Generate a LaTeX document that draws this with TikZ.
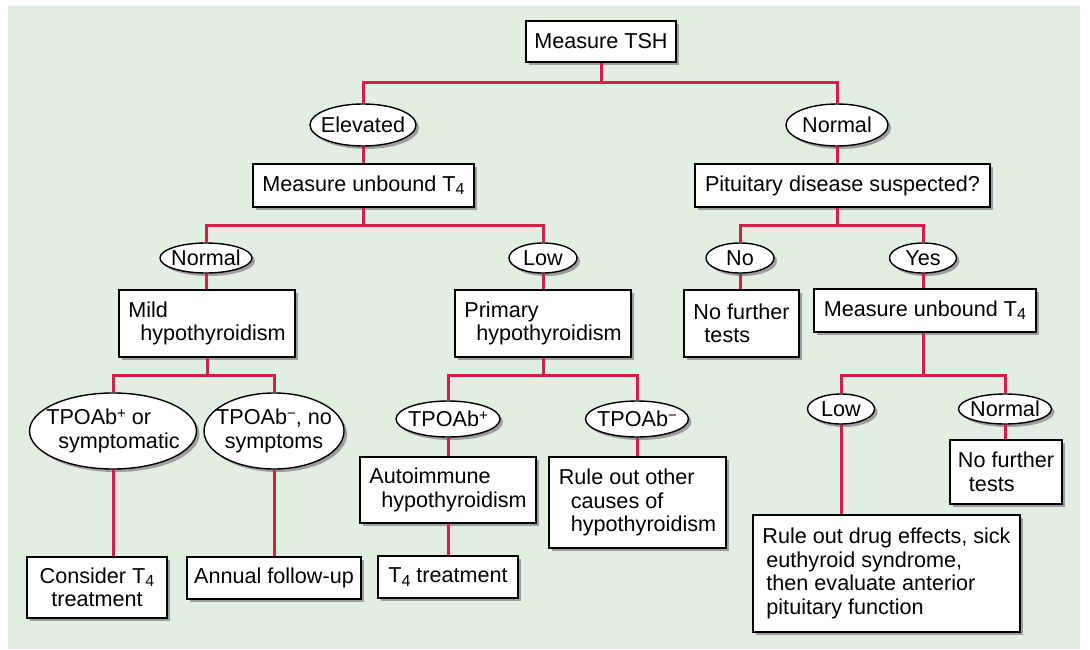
\documentclass[tikz,border=0pt]{standalone}
\usepackage{fontspec}
\setmainfont{Liberation Sans}
\usetikzlibrary{shapes.geometric,shadows}
\definecolor{bggreen}{RGB}{225,238,225}
\definecolor{linkred}{RGB}{214,29,72}
\newcommand{\Tfour}{T\raisebox{-0.28ex}{\fontsize{16}{16}\selectfont 4}}
\newcommand{\supsign}[1]{\raisebox{0.55ex}{\fontsize{15}{15}\selectfont #1}}

\begin{document}
\begin{tikzpicture}[x=1pt,y=-1pt,
  font=\fontsize{21.6}{23.5}\selectfont,
  boxshadow/.style={drop shadow={shadow xshift=3pt,shadow yshift=-3pt,fill=black!38,opacity=1}},
  box/.style={draw,line width=1.4pt,fill=white,boxshadow,rectangle,inner sep=2pt,align=left},
  oval/.style={draw,line width=1.4pt,fill=white,boxshadow,ellipse,inner xsep=-12pt,inner ysep=0pt,align=left},
  link/.style={linkred,line width=3pt}]
\useasboundingbox (0,0) rectangle (1090,650);
\fill[bggreen] (8,6) rectangle (1080,649);

% top of the tree
\node[box,minimum width=150pt,minimum height=41pt] (tsh) at (601,41.5) {Measure TSH};
\node[oval,minimum width=106pt,minimum height=42pt] (elev) at (363,125) {Elevated};
\node[oval,minimum width=102pt,minimum height=42pt] (normT) at (837,125) {Normal};
\node[box,minimum width=221pt,minimum height=43pt] (mu1) at (363.5,185.5) {Measure unbound \Tfour};
\node[box,minimum width=295pt,minimum height=43pt] (pit) at (842.5,185.5) {Pituitary disease suspected?};

% TSH elevated
\node[oval,minimum width=92pt,minimum height=30pt] (normL) at (206,258) {Normal};
\node[oval,minimum width=68pt,minimum height=30pt] (lowL) at (543,258) {Low};
\node[box,minimum width=176pt,minimum height=67pt] (mild) at (207,323.5) {Mild\\\hspace*{12pt}hypothyroidism};
\node[box,minimum width=176pt,minimum height=67pt] (prim) at (543,323.5) {Primary\\\hspace*{12pt}hypothyroidism};
\node[oval,minimum width=167pt,minimum height=76pt] (tpoSym) at (113,431) {TPOAb\supsign{+} or\\\hspace*{12pt}symptomatic};
\node[oval,minimum width=140pt,minimum height=76pt,align=center] (tpoNo) at (274,431) {TPOAb\supsign{−}, no\\symptoms};
\node[box,minimum width=140pt,minimum height=61pt,align=center] (cons) at (97,587.5) {Consider \Tfour\\treatment};
\node[box,minimum width=174pt,minimum height=42pt] (annual) at (274,578) {Annual follow-up};
\node[oval,minimum width=104pt,minimum height=36pt] (tpoP) at (448,419) {TPOAb\supsign{+}};
\node[oval,minimum width=103pt,minimum height=36pt] (tpoM) at (637,419) {TPOAb\supsign{−}};
\node[box,minimum width=176pt,minimum height=66pt] (auto) at (448,490) {Autoimmune\\\hspace*{12pt}hypothyroidism};
\node[box,minimum width=177pt,minimum height=91pt] (other) at (637.5,502.5) {Rule out other\\\hspace*{12pt}causes of\\\hspace*{12pt}hypothyroidism};
\node[box,minimum width=140pt,minimum height=42pt] (t4t) at (448,577) {\Tfour\ treatment};

% TSH normal
\node[oval,minimum width=68pt,minimum height=30pt] (no) at (740,258) {No};
\node[oval,minimum width=67pt,minimum height=30pt] (yes) at (923,258) {Yes};
\node[box,minimum width=115pt,minimum height=67pt] (nft1) at (741.5,323.5) {No further\\\hspace*{11pt}tests};
\node[box,minimum width=222pt,minimum height=43pt] (mu2) at (925,310.5) {Measure unbound \Tfour};
\node[oval,minimum width=67pt,minimum height=30pt] (lowR) at (841,409) {Low};
\node[oval,minimum width=93pt,minimum height=30pt] (normR) at (1005,409) {Normal};
\node[box,minimum width=112pt,minimum height=64pt] (nft2) at (1006,472) {No further\\\hspace*{11pt}tests};
\node[box,minimum width=267pt,minimum height=117pt] (drug) at (886.5,573.5) {Rule out drug effects, sick\\\hspace*{4pt}euthyroid syndrome,\\\hspace*{4pt}then evaluate anterior\\\hspace*{4pt}pituitary function};

% junctions
\coordinate (j1) at (601,83);
\coordinate (j2) at (363,225);
\coordinate (j3) at (837,225);
\coordinate (j4) at (207,375);
\coordinate (j5) at (543,375);
\coordinate (j6) at (923,375);

\draw[link] (tsh.south -| j1) -- (j1);
\draw[link] (elev.north) |- (j1) -| (normT.north);
\draw[link] (elev.south) -- (elev.south |- mu1.north);
\draw[link] (normT.south) -- (normT.south |- pit.north);
\draw[link] (mu1.south -| j2) -- (j2);
\draw[link] (normL.north) |- (j2) -| (lowL.north);
\draw[link] (pit.south -| j3) -- (j3);
\draw[link] (no.north) |- (j3) -| (yes.north);
\draw[link] (normL.south) -- (normL.south |- mild.north);
\draw[link] (lowL.south) -- (lowL.south |- prim.north);
\draw[link] (no.south) -- (no.south |- nft1.north);
\draw[link] (yes.south) -- (yes.south |- mu2.north);
\draw[link] (mild.south -| j4) -- (j4);
\draw[link] (tpoSym.north) |- (j4) -| (tpoNo.north);
\draw[link] (tpoSym.south) -- (tpoSym.south |- cons.north);
\draw[link] (tpoNo.south) -- (tpoNo.south |- annual.north);
\draw[link] (prim.south -| j5) -- (j5);
\draw[link] (tpoP.north) |- (j5) -| (tpoM.north);
\draw[link] (tpoP.south) -- (tpoP.south |- auto.north);
\draw[link] (tpoM.south) -- (tpoM.south |- other.north);
\draw[link] (auto.south) -- (auto.south |- t4t.north);
\draw[link] (mu2.south -| j6) -- (j6);
\draw[link] (lowR.north) |- (j6) -| (normR.north);
\draw[link] (lowR.south) -- (lowR.south |- drug.north);
\draw[link] (normR.south) -- (normR.south |- nft2.north);
\end{tikzpicture}
\end{document}
